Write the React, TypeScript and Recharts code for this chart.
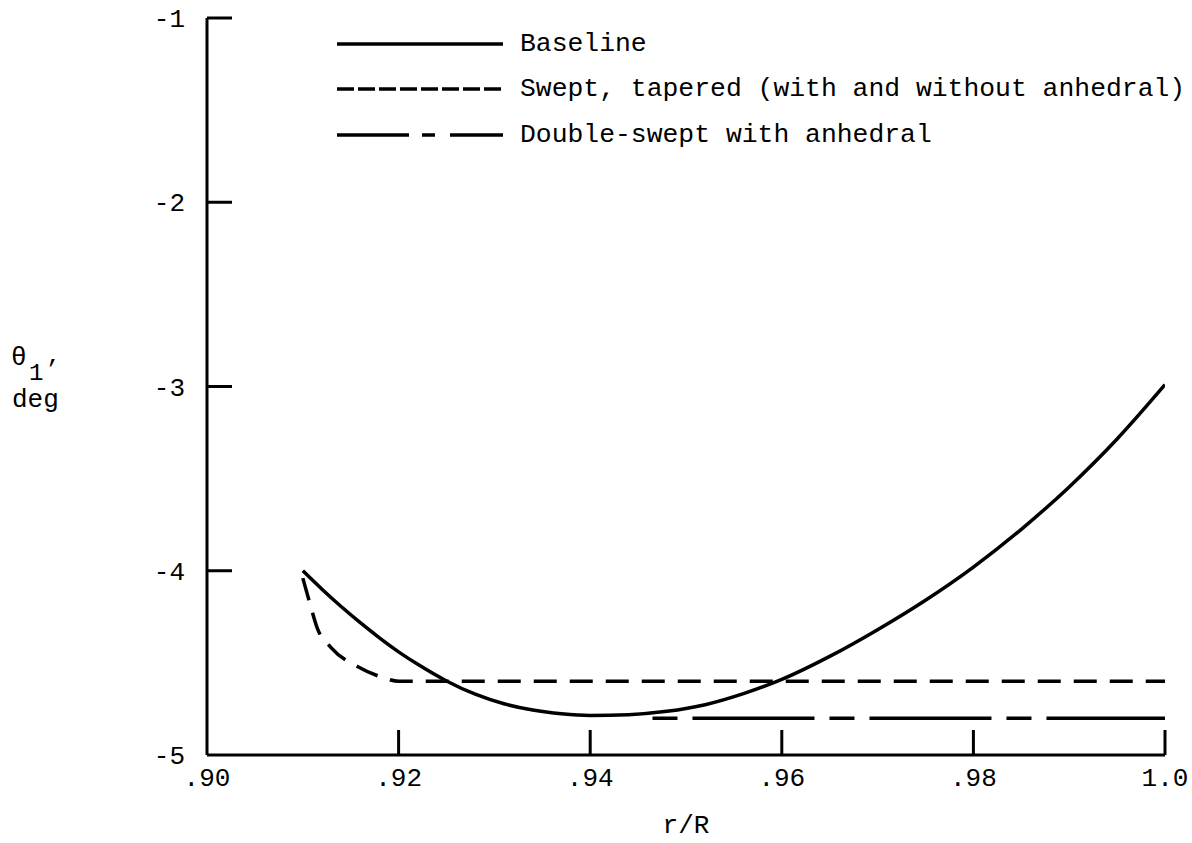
import { LineChart, Line, XAxis, YAxis, Legend } from 'recharts';

const FONT = '"Liberation Mono", "DejaVu Sans Mono", monospace';

// r/R positions and theta_1 (deg)
const baselineX = [0.91, 0.912, 0.914, 0.916, 0.918, 0.92, 0.922, 0.925, 0.928, 0.931, 0.934, 0.937, 0.94, 0.944, 0.948, 0.952, 0.956, 0.96, 0.965, 0.97, 0.975, 0.98, 0.985, 0.99, 0.995, 1.0];
const baselineY = [-4.0, -4.1, -4.194, -4.282, -4.364, -4.44, -4.508, -4.598, -4.67, -4.722, -4.756, -4.776, -4.785, -4.781, -4.763, -4.727, -4.667, -4.59, -4.465, -4.32, -4.16, -3.98, -3.775, -3.545, -3.285, -2.99];

const sweptX = [0.91, 0.9107, 0.9115, 0.913, 0.9157, 0.9184, 0.92, 0.96, 1.0];
const sweptY = [-4.04, -4.17, -4.31, -4.42, -4.52, -4.58, -4.6, -4.6, -4.6];

const doubleX = [0.9465, 1.0];
const doubleY = [-4.8, -4.8];

const xTicks = [0.9, 0.92, 0.94, 0.96, 0.98, 1.0];
const xTickLabels = ['.90', '.92', '.94', '.96', '.98', '1.0'];
const yTicks = [-5, -4, -3, -2, -1];
const yTickLabels = ['-5', '-4', '-3', '-2', '-1'];

const zip = (xs: number[], ys: number[]) => xs.map((x, i) => ({ x, y: ys[i] }));

const series = [
  { name: 'Baseline', data: zip(baselineX, baselineY), dash: undefined as string | undefined, legendDash: undefined as string | undefined },
  { name: 'Swept, tapered (with and without anhedral)', data: zip(sweptX, sweptY), dash: '23 13', legendDash: '17 4' },
  { name: 'Double-swept with anhedral', data: zip(doubleX, doubleY), dash: '25 15 122 15', legendDash: '72 13 13 15 80' },
];

const XTick = (props: any) => {
  const { x, y, payload } = props;
  const i = xTicks.indexOf(payload.value);
  return (
    <g>
      {payload.value > 0.9 && <line x1={x} x2={x} y1={y} y2={y - 25} stroke="#000" strokeWidth={3} />}
      <text x={x} y={y + 31} textAnchor="middle" fontFamily={FONT} fontSize={26} fill="#000">
        {xTickLabels[i]}
      </text>
    </g>
  );
};

const YTick = (props: any) => {
  const { x, y, payload } = props;
  const i = yTicks.indexOf(payload.value);
  return (
    <g>
      {payload.value > -5 && <line x1={x} x2={x + 25} y1={y} y2={y} stroke="#000" strokeWidth={3} />}
      <text x={x - 22} y={y + 9} textAnchor="end" fontFamily={FONT} fontSize={26} fill="#000">
        {yTickLabels[i]}
      </text>
    </g>
  );
};

const YLabel = () => (
  <g fontFamily={FONT} fill="#000">
    <text x={11} y={365} fontSize={26}>θ</text>
    <text x={29} y={380} fontSize={24}>1</text>
    <text x={45} y={377} fontSize={24}>’</text>
    <text x={12} y={407} fontSize={26}>deg</text>
  </g>
);

const LegendBox = () => (
  <div style={{ fontFamily: FONT, fontSize: 26.4, color: '#000' }}>
    {series.map((s) => (
      <div key={s.name} style={{ display: 'flex', alignItems: 'center', height: 45.5, whiteSpace: 'nowrap' }}>
        <svg width={170} height={10} style={{ display: 'block' }}>
          <line x1={0} x2={166} y1={5} y2={5} stroke="#000" strokeWidth={3.5} strokeDasharray={s.legendDash} />
        </svg>
        <span style={{ marginLeft: 13, lineHeight: '30px' }}>{s.name}</span>
      </div>
    ))}
  </div>
);

export default function App() {
  return (
    <div style={{ position: 'absolute', left: 0, top: 0, background: '#fff' }}>
      <LineChart width={1192} height={843} margin={{ top: 18, right: 27, left: 147, bottom: 48 }}>
        <XAxis
          dataKey="x"
          type="number"
          domain={[0.9, 1.0]}
          ticks={xTicks}
          allowDataOverflow
          axisLine={{ stroke: '#000', strokeWidth: 3 }}
          tickLine={false}
          tickSize={0}
          tickMargin={0}
          height={40}
          tick={<XTick />}
          interval={0}
          label={{ value: 'r/R', position: 'insideBottom', offset: -38, fontFamily: FONT, fontSize: 26, fill: '#000' }}
        />
        <YAxis
          type="number"
          domain={[-5, -1]}
          ticks={yTicks}
          allowDataOverflow
          axisLine={{ stroke: '#000', strokeWidth: 3 }}
          tickLine={false}
          tickSize={0}
          tickMargin={0}
          width={60}
          tick={<YTick />}
          interval={0}
          label={{ content: () => <YLabel /> }}
        />
        <Legend
          layout="horizontal"
          verticalAlign="middle"
          align="center"
          content={() => <LegendBox />}
          wrapperStyle={{ position: 'absolute', left: 337, top: 21, width: 860 }}
        />
        {series.map((s) => (
          <Line
            key={s.name}
            name={s.name}
            data={s.data}
            dataKey="y"
            type="monotone"
            stroke="#000"
            strokeWidth={3.5}
            strokeDasharray={s.dash}
            dot={false}
            activeDot={false}
            isAnimationActive={false}
          />
        ))}
      </LineChart>
    </div>
  );
}
